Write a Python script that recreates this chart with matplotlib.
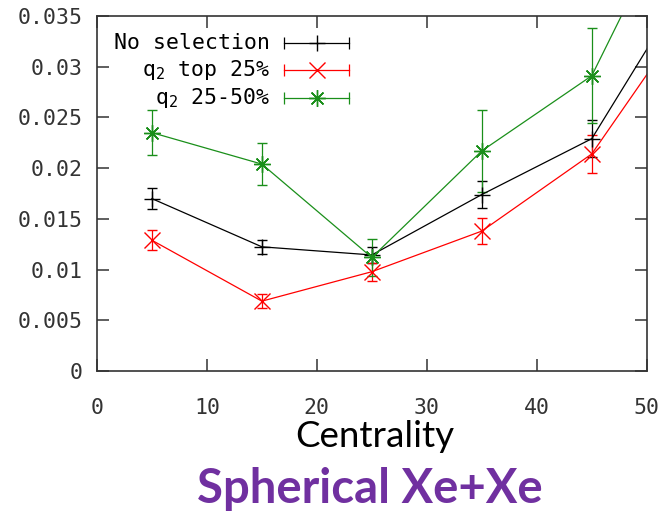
import numpy as np
import matplotlib
matplotlib.use('Agg')
import matplotlib.pyplot as plt

# centrality bins (last point lies beyond the axis, only its line shows)
cent = [5, 15, 25, 35, 45, 55]

# No selection
v_all = [0.0170, 0.01225, 0.01145, 0.01740, 0.0229, 0.0405]
e_all = [0.0010, 0.0007, 0.0008, 0.0013, 0.0018, 0.0020]
# q2 top 25%
v_top = [0.0129, 0.0069, 0.0098, 0.0138, 0.0214, 0.0370]
e_top = [0.0010, 0.0007, 0.0009, 0.0013, 0.0019, 0.0020]
# q2 25-50%
v_mid = [0.0235, 0.0204, 0.0112, 0.0217, 0.0291, 0.0510]
e_mid = [0.0022, 0.0021, 0.0018, 0.0040, 0.0047, 0.0050]

xticks = [0, 10, 20, 30, 40, 50]
yticks = [0, 0.005, 0.01, 0.015, 0.02, 0.025, 0.03, 0.035]
ylabels = ['0', '0.005', '0.01', '0.015', '0.02', '0.025', '0.03', '0.035']

labels = ['No selection', 'q$_2$ top 25%', 'q$_2$ 25-50%']
colors = ['black', '#ff0000', '#1a8f1a']
markers = ['+', 'x', (8, 2, 0)]
msizes = [11, 11, 12]

plt.rcParams['mathtext.fontset'] = 'custom'
plt.rcParams['mathtext.rm'] = 'DejaVu Sans Mono'
plt.rcParams['mathtext.it'] = 'DejaVu Sans Mono'

fig = plt.figure(figsize=(6.64, 5.12), dpi=100)
ax = fig.add_axes([0.146, 0.275, 0.828, 0.694])

series = [(v_all, e_all), (v_top, e_top), (v_mid, e_mid)]
for (v, e), c, m, ms in zip(series, colors, markers, msizes):
	ax.errorbar(cent, v, yerr=e, color=c, marker=m, markersize=ms, mew=1.0,
		lw=0.9, elinewidth=0.9, capsize=3.5, capthick=0.9, clip_on=True)

ax.set_xlim(0, 50)
ax.set_ylim(0, 0.035)
ax.set_xticks(xticks)
ax.set_yticks(yticks)
ax.set_yticklabels(ylabels)
ax.tick_params(direction='in', length=8.5, width=1.1, top=True, right=True,
	labelsize=15.5, colors='#333333')
ax.tick_params(axis='x', pad=19)
ax.tick_params(axis='y', pad=10)
for lab in ax.get_xticklabels() + ax.get_yticklabels():
	lab.set_family('DejaVu Sans Mono')
for s in ax.spines.values():
	s.set_linewidth(1.2)
	s.set_color('#333333')

# gnuplot style key: text right-aligned, sample line with end caps
rows = [0.924, 0.848, 0.769]
for lab, c, m, ms, yy in zip(labels, colors, markers, msizes, rows):
	ax.text(0.3145, yy, lab, transform=ax.transAxes, ha='right', va='center',
		family='DejaVu Sans Mono', fontsize=15.5)
	ax.plot([0.34, 0.458], [yy, yy], color=c, lw=0.9, transform=ax.transAxes,
		marker='|', markersize=8, mew=0.9)
	ax.plot([0.4], [yy], color=c, transform=ax.transAxes, marker=m,
		markersize=ms, mew=1.0)

fig.text(0.565, 0.127, 'Centrality', ha='center', va='baseline',
	family='Lato', fontsize=26.5, color='black')
fig.text(0.557, 0.017, 'Spherical Xe+Xe', ha='center', va='baseline',
	family='Lato', weight='bold', fontsize=34, color='#7030a0')

fig.savefig('out.png', dpi=100)
